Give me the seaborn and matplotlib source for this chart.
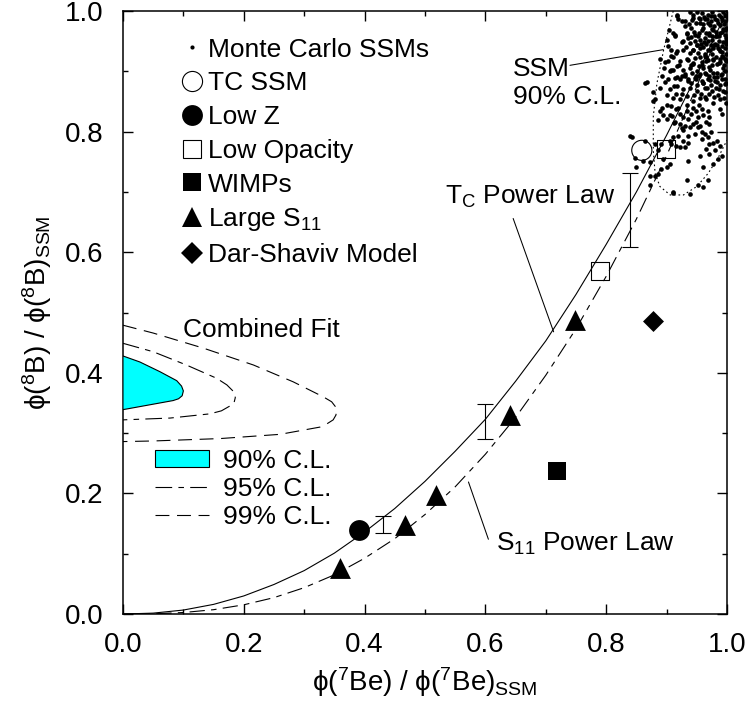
import numpy as np
import pandas as pd
import matplotlib
matplotlib.use("Agg")
import matplotlib.pyplot as plt
from matplotlib.ticker import MultipleLocator, FormatStrFormatter
from matplotlib.lines import Line2D
from matplotlib.patches import Patch
import seaborn as sns

# ---------------- data ----------------
# T_C power law curve
tc_x = [0.0, 0.05, 0.10, 0.15, 0.20, 0.25, 0.30, 0.35, 0.40, 0.45, 0.50,
        0.55, 0.60, 0.65, 0.70, 0.75, 0.80, 0.85, 0.90, 0.95, 1.00]
tc_y = [0.0, 0.0015, 0.0066, 0.016, 0.030, 0.049, 0.072, 0.101, 0.136, 0.175, 0.220,
        0.270, 0.323, 0.386, 0.453, 0.530, 0.613, 0.700, 0.794, 0.894, 1.000]
# S11 power law curve
s11_x = [0.0, 0.05, 0.10, 0.15, 0.20, 0.25, 0.30, 0.35, 0.40, 0.45, 0.50,
         0.55, 0.60, 0.65, 0.70, 0.75, 0.80, 0.85, 0.90, 0.95, 1.00]
s11_y = [0.0, 0.0004, 0.0025, 0.0072, 0.0153, 0.0272, 0.0437, 0.065, 0.0925, 0.125, 0.165,
         0.211, 0.265, 0.326, 0.396, 0.473, 0.560, 0.655, 0.760, 0.875, 1.000]

# Combined fit contours
cl90_x = [0.0, 0.028, 0.061, 0.089, 0.097, 0.100, 0.098, 0.092, 0.083, 0.050, 0.006, 0.0]
cl90_y = [0.428, 0.418, 0.402, 0.387, 0.378, 0.370, 0.362, 0.357, 0.354, 0.348, 0.340, 0.339]
cl95_x = [0.0, 0.050, 0.105, 0.155, 0.172, 0.183, 0.186, 0.184, 0.177, 0.163, 0.144, 0.078, 0.0]
cl95_y = [0.449, 0.435, 0.413, 0.391, 0.380, 0.369, 0.359, 0.351, 0.345, 0.337, 0.332, 0.325, 0.322]
cl99_x = [0.0, 0.050, 0.133, 0.216, 0.282, 0.332, 0.3455, 0.354, 0.3526, 0.348, 0.337, 0.326,
          0.260, 0.161, 0.050, 0.0]
cl99_y = [0.479, 0.466, 0.441, 0.413, 0.385, 0.360, 0.352, 0.341, 0.330, 0.322, 0.315, 0.310,
          0.298, 0.291, 0.287, 0.286]

# SSM 90% C.L. region (dotted)
ssm_x = [0.911, 0.895, 0.884, 0.878, 0.878, 0.881, 0.889, 0.906, 0.928, 0.950, 0.969, 0.986, 1.0]
ssm_y = [1.000, 0.935, 0.880, 0.825, 0.769, 0.731, 0.709, 0.695, 0.695, 0.709, 0.731, 0.758, 0.786]

# Monte Carlo SSMs (dots)
mc_x = [
    0.889, 0.894, 0.900, 0.908, 0.916, 0.922, 0.927, 0.933, 0.936, 0.941,
    0.944, 0.949, 0.952, 0.958, 0.960, 0.969, 0.971, 0.988, 0.991, 0.914,
    0.922, 0.930, 0.938, 0.944, 0.949, 0.955, 0.966, 0.971, 0.927, 0.936,
    0.947, 0.952, 0.958, 0.963, 0.969, 0.974, 0.977, 0.983, 0.988, 0.971,
    0.966, 0.958, 0.911, 0.919, 0.905, 0.908, 0.916, 0.922, 0.930, 0.927,
    0.936, 0.891, 0.880, 0.886, 0.894, 0.905, 0.900, 0.891, 0.886, 0.880,
    0.872, 0.861, 0.850, 0.936, 0.955, 0.971, 0.980, 0.985, 0.977, 0.960,
    0.933, 0.952, 0.911, 0.938, 0.969, 0.991, 0.872, 0.864, 0.842,
    0.889, 0.903, 0.911, 0.922, 0.933, 0.944, 0.955, 0.966, 0.977, 0.986,
    0.994, 0.998, 0.895, 0.908, 0.917, 0.928, 0.939, 0.950, 0.961, 0.972,
    0.983, 0.997, 0.892, 0.903, 0.914, 0.925, 0.936, 0.947, 0.958, 0.969,
    0.980, 0.991, 0.998, 0.889, 0.906, 0.917, 0.928, 0.939, 0.950, 0.964,
    0.975, 0.986, 0.997, 0.911, 0.922, 0.933, 0.944, 0.955, 0.966, 0.977,
    0.988, 0.999, 0.900, 0.881, 0.878, 0.933, 0.953,
    0.917, 0.919, 0.925, 0.914, 0.930, 0.933, 0.939, 0.944, 0.950, 0.953,
    0.955, 0.958, 0.961, 0.964, 0.966, 0.969, 0.972, 0.975, 0.977, 0.980,
    0.983, 0.986, 0.988, 0.991, 0.994, 0.997, 0.999, 0.998, 0.983, 0.988,
    0.977, 0.969, 0.961, 0.955, 0.950, 0.944, 0.939, 0.928, 0.917, 0.908,
    0.997, 0.999, 0.991, 0.975, 0.964, 0.947, 0.986, 0.997, 0.975, 0.941,
    0.953, 0.998, 0.998,
    0.962, 0.968, 0.973, 0.979, 0.984, 0.990, 0.995, 0.970, 0.976, 0.981,
    0.987, 0.993, 0.996, 0.966, 0.972, 0.979, 0.985, 0.992, 0.997, 0.963,
    0.969, 0.975, 0.982, 0.989, 0.994, 0.958, 0.964, 0.970, 0.977, 0.984,
    0.991, 0.996, 0.955, 0.960, 0.967, 0.974, 0.981, 0.988, 0.993, 0.950,
    0.957, 0.963, 0.971, 0.978, 0.985, 0.995, 0.945, 0.940, 0.948, 0.943,
    0.952, 0.957, 0.947, 0.942, 0.935, 0.930, 0.925, 0.918, 0.912, 0.905,
    0.898, 0.900,
    0.864, 0.878, 0.911, 0.917, 0.839, 0.867, 0.886, 0.872, 0.848, 0.911, 0.960,
    0.931, 0.937, 0.943, 0.949, 0.955, 0.961, 0.967, 0.973, 0.979, 0.985, 0.991, 0.997,
    0.934, 0.940, 0.946, 0.952, 0.958, 0.964, 0.970, 0.976, 0.982, 0.988, 0.994,
    0.932, 0.938, 0.944, 0.950, 0.956, 0.962, 0.968, 0.974, 0.980, 0.986, 0.992, 0.998,
    0.935, 0.941, 0.947, 0.953, 0.959, 0.965, 0.971, 0.977, 0.983, 0.989, 0.995,
    0.930, 0.936, 0.942, 0.948, 0.954, 0.960, 0.966, 0.972, 0.978, 0.984, 0.990, 0.996,
    0.902, 0.908, 0.914, 0.920, 0.926, 0.904, 0.910, 0.916, 0.922, 0.928, 0.906, 0.913, 0.919, 0.925,
    0.897, 0.893, 0.901, 0.909, 0.915,
]
mc_y = [
    0.835, 0.827, 0.821, 0.843, 0.838, 0.829, 0.824, 0.835, 0.821, 0.829,
    0.840, 0.835, 0.824, 0.838, 0.827, 0.835, 0.824, 0.838, 0.829, 0.816,
    0.813, 0.810, 0.807, 0.813, 0.816, 0.810, 0.816, 0.813, 0.802, 0.793,
    0.796, 0.807, 0.799, 0.796, 0.791, 0.799, 0.782, 0.785, 0.777, 0.780,
    0.771, 0.788, 0.791, 0.793, 0.785, 0.780, 0.777, 0.774, 0.774, 0.785,
    0.782, 0.780, 0.780, 0.769, 0.755, 0.746, 0.741, 0.738, 0.730, 0.727,
    0.727, 0.752, 0.741, 0.752, 0.760, 0.763, 0.769, 0.755, 0.746, 0.741,
    0.719, 0.711, 0.700, 0.697, 0.719, 0.760, 0.711, 0.785, 0.791,
    0.920, 0.917, 0.923, 0.917, 0.920, 0.914, 0.923, 0.917, 0.920, 0.914,
    0.923, 0.917, 0.906, 0.903, 0.909, 0.903, 0.906, 0.900, 0.906, 0.903,
    0.898, 0.900, 0.892, 0.887, 0.889, 0.892, 0.887, 0.889, 0.884, 0.887,
    0.884, 0.887, 0.881, 0.873, 0.870, 0.876, 0.870, 0.873, 0.867, 0.873,
    0.867, 0.870, 0.865, 0.856, 0.854, 0.859, 0.851, 0.856, 0.854, 0.848,
    0.854, 0.848, 0.845, 0.854, 0.865, 0.845, 0.845,
    0.991, 0.986, 0.983, 0.961, 0.975, 0.964, 0.999, 0.994, 0.998, 0.988,
    0.980, 0.997, 0.972, 0.986, 0.964, 0.994, 0.977, 0.999, 0.969, 0.986,
    0.958, 0.994, 0.977, 0.966, 0.999, 0.983, 0.955, 0.991, 0.944, 0.933,
    0.939, 0.950, 0.941, 0.952, 0.944, 0.936, 0.930, 0.936, 0.933, 0.936,
    0.939, 0.928, 0.925, 0.928, 0.928, 0.950, 0.950, 0.969, 0.958, 0.972,
    0.964, 0.972, 0.950,
    0.990, 0.981, 0.992, 0.975, 0.985, 0.990, 0.978, 0.960, 0.952, 0.965,
    0.958, 0.948, 0.960, 0.945, 0.935, 0.944, 0.939, 0.932, 0.920, 0.925,
    0.918, 0.910, 0.924, 0.915, 0.905, 0.910, 0.898, 0.893, 0.897, 0.890,
    0.896, 0.888, 0.895, 0.880, 0.872, 0.878, 0.873, 0.878, 0.868, 0.877,
    0.862, 0.858, 0.863, 0.858, 0.860, 0.855, 0.860, 0.880, 0.892, 0.912,
    0.930, 0.945, 0.960, 0.985, 0.955, 0.895, 0.862, 0.890, 0.875, 0.900,
    0.882, 0.860,
    0.881, 0.850, 0.964, 0.994, 0.792, 0.883, 0.819, 0.750, 0.756, 0.698, 0.709,
    0.984, 0.978, 0.989, 0.981, 0.986, 0.979, 0.987, 0.983, 0.991, 0.980, 0.985, 0.993,
    0.962, 0.957, 0.966, 0.959, 0.968, 0.955, 0.963, 0.970, 0.958, 0.964, 0.971,
    0.941, 0.947, 0.936, 0.944, 0.939, 0.948, 0.935, 0.943, 0.946, 0.937, 0.942, 0.945,
    0.918, 0.911, 0.922, 0.909, 0.916, 0.924, 0.908, 0.919, 0.913, 0.921, 0.910,
    0.893, 0.884, 0.897, 0.887, 0.892, 0.881, 0.895, 0.886, 0.890, 0.883, 0.894, 0.879,
    0.942, 0.925, 0.958, 0.910, 0.948, 0.968, 0.903, 0.930, 0.888, 0.951, 0.828, 0.815, 0.840, 0.806,
    0.915, 0.840, 0.952, 0.826, 0.862,
]

# model points
tcssm_x, tcssm_y = [0.859], [0.769]
lowz_x, lowz_y = [0.390], [0.139]
lowop_x, lowop_y = [0.899, 0.790], [0.771, 0.569]
wimp_x, wimp_y = [0.719], [0.238]
s11pts_x = [0.360, 0.467, 0.519, 0.640, 0.749]
s11pts_y = [0.076, 0.148, 0.197, 0.330, 0.488]
ds_x, ds_y = [0.878], [0.486]

# error bars
err_x = [0.431, 0.600, 0.839]
err_y = [0.149, 0.319, 0.670]
err_e = [0.014, 0.029, 0.062]

legend_labels = ["Monte Carlo SSMs", "TC SSM", "Low Z", "Low Opacity", "WIMPs",
                 r"Large S$_{11}$", "Dar-Shaviv Model"]
cl_labels = ["90% C.L.", "95% C.L.", "99% C.L."]
xticks = [0.0, 0.2, 0.4, 0.6, 0.8, 1.0]
yticks = [0.0, 0.2, 0.4, 0.6, 0.8, 1.0]

# ---------------- style ----------------
sns.set_theme(style="ticks")
plt.rcParams["font.family"] = ["Liberation Sans", "DejaVu Sans"]
plt.rcParams.update({
    "mathtext.fontset": "custom",
    "mathtext.rm": "Liberation Sans",
    "mathtext.it": "Liberation Sans:italic",
    "mathtext.bf": "Liberation Sans:bold",
    "lines.scale_dashes": False,
    "axes.edgecolor": "black",
    "axes.labelcolor": "black",
    "text.color": "black",
    "xtick.color": "black",
    "ytick.color": "black",
})

fig = plt.figure(figsize=(7.48, 7.04), dpi=100)
ax = fig.add_axes([0.1644, 0.1278, 0.8075, 0.8565])

DASH95 = (0, (12, 4.5, 4, 4.5))
DASH99 = (0, (10, 5.5))
DASHS11 = (0, (11, 4.5, 4, 4.5))
DOTTED = (0, (1.2, 2.0))
CYAN = "#00ffff"

# Monte Carlo dots
sns.scatterplot(x=mc_x, y=mc_y, s=11, color="black", linewidth=0, marker="o",
                ax=ax, zorder=2, legend=False)

# SSM region
sns.lineplot(x=ssm_x, y=ssm_y, sort=False, estimator=None, color="black",
             lw=0.8, linestyle=DOTTED, ax=ax, zorder=3)

# Combined fit contours
ax.fill(cl90_x, cl90_y, facecolor=CYAN, edgecolor="black", lw=0.8, zorder=3)
sns.lineplot(x=cl95_x, y=cl95_y, sort=False, estimator=None, color="black",
             lw=0.8, linestyle=DASH95, ax=ax, zorder=3)
sns.lineplot(x=cl99_x, y=cl99_y, sort=False, estimator=None, color="black",
             lw=0.8, linestyle=DASH99, ax=ax, zorder=3)

# power laws
sns.lineplot(x=tc_x, y=tc_y, sort=False, estimator=None, color="black",
             lw=0.8, ax=ax, zorder=3)
sns.lineplot(x=s11_x, y=s11_y, sort=False, estimator=None, color="black",
             lw=0.8, linestyle=DASHS11, ax=ax, zorder=3)

# error bars
ax.errorbar(err_x, err_y, yerr=err_e, fmt="none", ecolor="black",
            elinewidth=0.8, capsize=5.5, capthick=0.8, zorder=4)

# model points
sns.scatterplot(x=tcssm_x, y=tcssm_y, marker="o", s=210, facecolor="none",
                edgecolor="black", linewidth=0.8, ax=ax, zorder=5, legend=False)
sns.scatterplot(x=lowz_x, y=lowz_y, marker="o", s=225, color="black",
                linewidth=0, ax=ax, zorder=5, legend=False)
sns.scatterplot(x=lowop_x, y=lowop_y, marker="s", s=161, facecolor="none",
                edgecolor="black", linewidth=0.8, ax=ax, zorder=5, legend=False)
sns.scatterplot(x=wimp_x, y=wimp_y, marker="s", s=161, color="black",
                linewidth=0, ax=ax, zorder=5, legend=False)
sns.scatterplot(x=s11pts_x, y=s11pts_y, marker="^", s=225, color="black",
                linewidth=0, ax=ax, zorder=5, legend=False)
sns.scatterplot(x=ds_x, y=ds_y, marker="D", s=114, color="black",
                linewidth=0, ax=ax, zorder=5, legend=False)

# annotations
FS = 19
ax.text(0.0998, 0.459, "Combined Fit", fontsize=FS, zorder=6)
ax.text(0.646, 0.892, "SSM", fontsize=FS, zorder=6)
ax.text(0.646, 0.846, "90% C.L.", fontsize=FS, zorder=6)
ax.plot([0.740, 0.8946], [0.910, 0.936], color="black", lw=0.75, zorder=6)
ax.text(0.533, 0.680, r"T$_\mathrm{C}$ Power Law", fontsize=FS, zorder=6)
ax.plot([0.646, 0.713], [0.656, 0.468], color="black", lw=0.75, zorder=6)
ax.text(0.618, 0.105, r"S$_{11}$ Power Law", fontsize=FS, zorder=6)
ax.plot([0.605, 0.572], [0.124, 0.219], color="black", lw=0.75, zorder=6)

# legends
h1 = [
    Line2D([], [], ls="none", marker="o", ms=3, color="black", mew=0),
    Line2D([], [], ls="none", marker="o", ms=14.5, mfc="white", mec="black", mew=0.8),
    Line2D([], [], ls="none", marker="o", ms=15, color="black", mew=0),
    Line2D([], [], ls="none", marker="s", ms=12.7, mfc="white", mec="black", mew=0.8),
    Line2D([], [], ls="none", marker="s", ms=12.7, color="black", mew=0),
    Line2D([], [], ls="none", marker="^", ms=15, color="black", mew=0),
    Line2D([], [], ls="none", marker="D", ms=10.7, color="black", mew=0),
]
leg1 = ax.legend(h1, legend_labels, loc="upper left", bbox_to_anchor=(0.0924, 0.956),
                 frameon=False, borderaxespad=0, borderpad=0, handlelength=1.0,
                 handletextpad=0.1, labelspacing=0.37, fontsize=FS, numpoints=1)
ax.add_artist(leg1)
h2 = [
    Patch(facecolor=CYAN, edgecolor="black", lw=0.8),
    Line2D([], [], color="black", lw=0.8, linestyle=DASH95),
    Line2D([], [], color="black", lw=0.8, linestyle=DASH99),
]
ax.legend(h2, cl_labels, loc="upper left", bbox_to_anchor=(0.0535, 0.274),
          frameon=False, borderaxespad=0, borderpad=0, handlelength=2.05,
          handleheight=0.6, handletextpad=0.5, labelspacing=0.15, fontsize=FS)

# axes
ax.set_xlim(0, 1)
ax.set_ylim(0, 1)
ax.set_xticks(xticks)
ax.set_yticks(yticks)
ax.xaxis.set_major_formatter(FormatStrFormatter("%.1f"))
ax.yaxis.set_major_formatter(FormatStrFormatter("%.1f"))
ax.xaxis.set_minor_locator(MultipleLocator(0.1))
ax.yaxis.set_minor_locator(MultipleLocator(0.1))
ax.tick_params(which="both", direction="in", top=True, right=True, width=1.0)
ax.tick_params(which="major", length=7.2, labelsize=20)
ax.tick_params(axis="x", which="major", pad=13)
ax.tick_params(axis="y", which="major", pad=14)
ax.tick_params(which="minor", length=3.6)
for sp in ax.spines.values():
    sp.set_linewidth(1.1)
    sp.set_color("black")

ax.set_xlabel(r"$\mathrm{\phi(^{7}Be)\ /\ \phi(^{7}Be)_{SSM}}$", fontsize=20, labelpad=5)
ax.set_ylabel(r"$\mathrm{\phi(^{8}B)\ /\ \phi(^{8}B)_{SSM}}$", fontsize=20, labelpad=8)

fig.savefig("out.png", dpi=100, facecolor="white")
